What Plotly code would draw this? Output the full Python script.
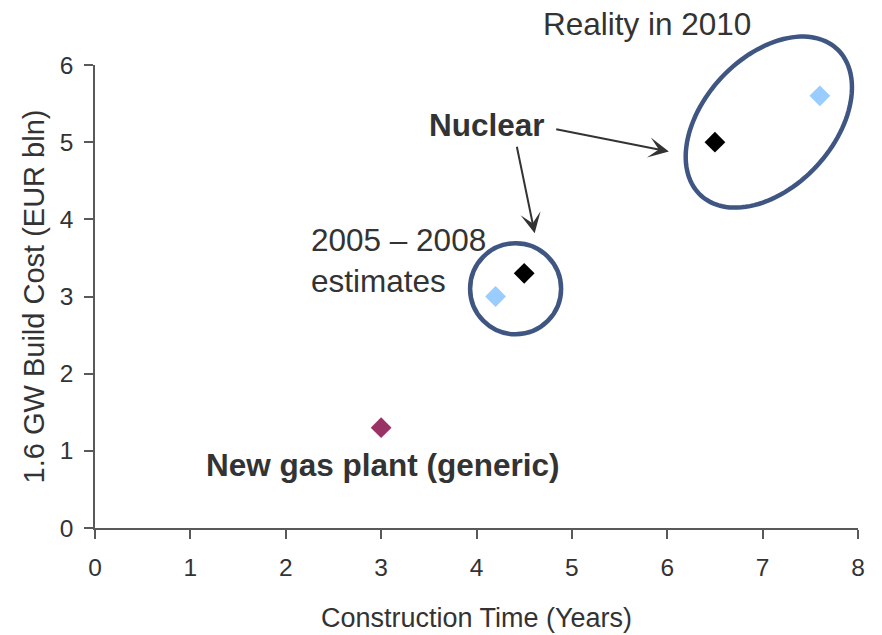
import numpy as np
import plotly.graph_objects as go

# ---- data ----
gas_x = [3.0]
gas_y = [1.3]
nuclear_x = [4.5, 6.5]
nuclear_y = [3.3, 5.0]
other_x = [4.2, 7.6]
other_y = [3.0, 5.6]

x_ticks = [0, 1, 2, 3, 4, 5, 6, 7, 8]
y_ticks = [0, 1, 2, 3, 4, 5, 6]

# ---- layout constants ----
W, H = 882, 635
ML, MR, MT, MB = 95, 24, 65, 107
X_RANGE = [0, 8]
Y_RANGE = [0, 6]
px_x = (W - ML - MR) / (X_RANGE[1] - X_RANGE[0])
px_y = (H - MT - MB) / (Y_RANGE[1] - Y_RANGE[0])


def to_px(v):
    return (v - X_RANGE[0]) / (X_RANGE[1] - X_RANGE[0])


def to_py(v):
    return (v - Y_RANGE[0]) / (Y_RANGE[1] - Y_RANGE[0])


TXT = "#333333"
AX = "#595959"
RING = "#3F5682"
FONT = "Liberation Sans, Arial, sans-serif"
ANN = 31.5

fig = go.Figure()
fig.add_trace(go.Scatter(x=gas_x, y=gas_y, mode="markers",
                         marker=dict(symbol="diamond", size=16, color="#993366"),
                         showlegend=False, hoverinfo="skip"))
fig.add_trace(go.Scatter(x=other_x, y=other_y, mode="markers",
                         marker=dict(symbol="diamond", size=16, color="#99CCFF"),
                         showlegend=False, hoverinfo="skip"))
fig.add_trace(go.Scatter(x=nuclear_x, y=nuclear_y, mode="markers",
                         marker=dict(symbol="diamond", size=16, color="#000000"),
                         showlegend=False, hoverinfo="skip"))

# small circle around 2005-2008 estimates
c_cx, c_cy, c_r = 4.41, 3.10, 45.5
fig.add_shape(type="circle", xref="x", yref="y",
              x0=c_cx - c_r / px_x, x1=c_cx + c_r / px_x,
              y0=c_cy - c_r / px_y, y1=c_cy + c_r / px_y,
              line=dict(color=RING, width=4.5), layer="below")

# tilted ellipse around reality 2010 (paper refs so it is not clipped)
e_cx, e_cy, e_a, e_b, e_ang = 7.065, 5.26, 100, 65, 47
t = np.linspace(0, 2 * np.pi, 121)
th = np.deg2rad(e_ang)
ex = e_cx + (e_a * np.cos(t) * np.cos(th) - e_b * np.sin(t) * np.sin(th)) / px_x
ey = e_cy + (e_a * np.cos(t) * np.sin(th) + e_b * np.sin(t) * np.cos(th)) / px_y
path = "M " + " L ".join(f"{to_px(a):.5f},{to_py(b):.5f}" for a, b in zip(ex, ey)) + " Z"
fig.add_shape(type="path", xref="paper", yref="paper", path=path,
              line=dict(color=RING, width=4.5), layer="below")

# text annotations
fig.add_annotation(x=to_px(5.79), y=to_py(6.53), xref="paper", yref="paper",
                   xanchor="center", yanchor="middle",
                   text="Reality in 2010",
                   showarrow=False, font=dict(size=ANN, color=TXT))
fig.add_annotation(x=4.11, y=5.22, xref="x", yref="y", text="<b>Nuclear</b>",
                   showarrow=False, font=dict(size=ANN, color=TXT))
fig.add_annotation(x=2.24, y=3.47, xref="x", yref="y", text="2005 – 2008<br>estimates",
                   showarrow=False, xanchor="left", align="left",
                   font=dict(size=ANN, color=TXT))
fig.add_annotation(x=3.02, y=0.82, xref="x", yref="y", text="<b>New gas plant (generic)</b>",
                   showarrow=False, font=dict(size=ANN, color=TXT))

# arrows
for (tx, ty, hx, hy) in [(4.82, 5.17, 6.017, 4.88), (4.42, 4.96, 4.61, 3.82)]:
    fig.add_annotation(x=hx, y=hy, ax=tx, ay=ty, xref="x", yref="y",
                       axref="x", ayref="y", text="", showarrow=True,
                       arrowhead=3, arrowsize=1.7, arrowwidth=2, arrowcolor=TXT)

axis_common = dict(showline=True, linecolor=AX, linewidth=1.5, ticks="outside",
                   ticklen=9, tickwidth=1.5, tickcolor=AX, showgrid=False,
                   zeroline=False, tickfont=dict(size=24.5, color=TXT),
                   automargin=False)

fig.update_xaxes(range=X_RANGE, tickvals=x_ticks, fixedrange=True,
                 title=dict(text="Construction Time (Years)",
                            font=dict(size=27, color=TXT), standoff=28),
                 ticklabelstandoff=8, **axis_common)
fig.update_yaxes(range=Y_RANGE, tickvals=y_ticks, fixedrange=True,
                 title=dict(text="1.6 GW Build Cost (EUR bln)",
                            font=dict(size=29, color=TXT), standoff=7),
                 ticklabelstandoff=6, **axis_common)

fig.update_layout(width=W, height=H, margin=dict(l=ML, r=MR, t=MT, b=MB),
                  paper_bgcolor="white", plot_bgcolor="white",
                  font=dict(family=FONT, color=TXT), showlegend=False)

fig.write_html("out.html", config={"displayModeBar": False},
               post_script="document.body.style.margin='0px';document.body.style.overflow='hidden';")
